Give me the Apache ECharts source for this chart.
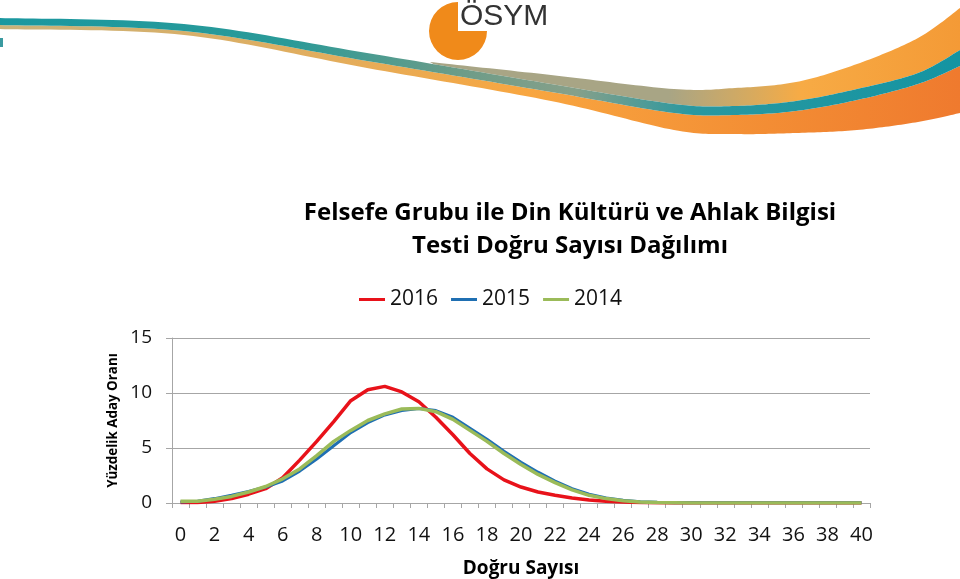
<!DOCTYPE html>
<html>
<head>
<meta charset="utf-8">
<script src="https://cdn.jsdelivr.net/npm/echarts@6/dist/echarts.min.js"></script>
<style>
html,body{margin:0;padding:0;background:#fff;}
#main{width:960px;height:579px;}
</style>
</head>
<body>
<div id="main"></div>
<script>
const categories = ['0','1','2','3','4','5','6','7','8','9','10','11','12','13','14','15','16','17','18','19','20','21','22','23','24','25','26','27','28','29','30','31','32','33','34','35','36','37','38','39','40'];
const seriesNames = ['2016','2015','2014'];
const values2016 = [0.05,0.05,0.15,0.4,0.8,1.3,2.3,3.9,5.6,7.4,9.3,10.3,10.6,10.1,9.2,7.8,6.2,4.5,3.1,2.1,1.45,1.0,0.7,0.45,0.27,0.15,0.08,0.04,0.02,0.01,0.01,0.01,0.01,0.01,0.01,0.01,0.01,0.01,0.01,0.01,0.01];
const values2015 = [0.1,0.15,0.4,0.7,1.05,1.45,2.0,2.9,4.0,5.2,6.4,7.3,8.0,8.4,8.6,8.4,7.8,6.8,5.8,4.7,3.7,2.8,2.0,1.3,0.8,0.45,0.25,0.12,0.06,0.03,0.02,0.02,0.02,0.02,0.02,0.02,0.02,0.02,0.02,0.02,0.02];
const values2014 = [0.15,0.15,0.35,0.6,1.0,1.5,2.2,3.1,4.3,5.6,6.6,7.5,8.1,8.55,8.6,8.3,7.6,6.6,5.6,4.5,3.5,2.6,1.85,1.2,0.7,0.4,0.2,0.1,0.05,0.03,0.01,0.01,0.01,0.01,0.01,0.01,0.01,0.01,0.01,0.01,0.01];
const titleText = 'Felsefe Grubu ile Din Kültürü ve Ahlak Bilgisi\nTesti Doğru Sayısı Dağılımı';
const xAxisName = 'Doğru Sayısı';
const yAxisName = 'Yüzdelik Aday Oranı';
const colors = ['#e8121a','#1f6fb2','#9bbb59'];

const FONT = 'Open Sans';
const chart = echarts.init(document.getElementById('main'), null, {renderer:'canvas'});

function lg(stops){ return {type:'linear',x:0,y:0,x2:1,y2:0,colorStops:stops}; }

// decorative header ribbon edges (Catmull-Rom through guide points)
function spline(p, n){
  const out=[];
  for(let i=0;i<p.length-1;i++){
    const p0=p[Math.max(0,i-1)], p1=p[i], p2=p[i+1], p3=p[Math.min(p.length-1,i+2)];
    for(let k=0;k<n;k++){
      const t=k/n, t2=t*t, t3=t2*t;
      const f=(a,b,c,d)=>0.5*((2*b)+(-a+c)*t+(2*a-5*b+4*c-d)*t2+(-a+3*b-3*c+d)*t3);
      out.push([f(p0[0],p1[0],p2[0],p3[0]), f(p0[1],p1[1],p2[1],p3[1])]);
    }
  }
  out.push(p[p.length-1]);
  return out;
}
const tealTopG = [[0,18],[184,24],[367,53],[551,84],[674,104],[735,106],[796,101],[857,89],[918,73],[960,50]];
const tealBotG = [[0,25],[184,31],[367,61],[551,92],[674,113],[735,115],[796,111],[857,100],[918,84],[960,66]];
const upperTopG = [[430,62],[551,75],[674,89],[735,88],[796,82],[857,64],[918,38],[960,8]];
const lowerBotG = [[0,29],[184,35],[367,68],[551,101],[674,130],[735,134],[796,133],[857,130],[918,122],[960,113]];

const tealTop = spline(tealTopG,20), tealBot = spline(tealBotG,20);
const upperTop = spline(upperTopG,20), lowerBot = spline(lowerBotG,20);
const tealRibbon = tealTop.concat(tealBot.slice().reverse());
const lowerRibbon = tealBot.concat(lowerBot.slice().reverse());
const upperRibbon = upperTop.concat(tealTop.filter(p=>p[0]>=430).reverse());

const option = {
  backgroundColor:'#ffffff',
  animation:false,
  title:{
    text:titleText,
    left:565, top:192, textAlign:'center',
    textStyle:{fontFamily:FONT,fontSize:24,fontWeight:'bold',color:'#000',lineHeight:33}
  },
  legend:{
    data:seriesNames,
    left:354, top:284,
    icon:'rect', itemWidth:26, itemHeight:3, itemGap:13,
    textStyle:{fontFamily:FONT,fontSize:21,color:'#111'}
  },
  grid:{left:172,right:90,top:338,bottom:76,containLabel:false},
  xAxis:{
    type:'category', data:categories, boundaryGap:true,
    name:xAxisName, nameLocation:'middle', nameGap:56,
    nameTextStyle:{fontFamily:FONT,fontSize:19,fontWeight:'bold',color:'#000'},
    axisLine:{lineStyle:{color:'#a6a6a6',width:1}},
    axisTick:{show:true,interval:0,length:5,lineStyle:{color:'#a6a6a6'}},
    axisLabel:{interval:1,margin:22,fontFamily:FONT,fontSize:20,color:'#111'},
    splitLine:{show:false}
  },
  yAxis:{
    type:'value', min:0, max:15, interval:5,
    name:yAxisName, nameLocation:'middle', nameGap:48,
    nameTextStyle:{fontFamily:FONT,fontSize:13.4,fontWeight:'bold',color:'#000'},
    axisLine:{show:true,lineStyle:{color:'#a6a6a6'}},
    axisTick:{show:true,length:6,lineStyle:{color:'#a6a6a6'}},
    axisLabel:{margin:20,fontFamily:FONT,fontSize:19,color:'#111'},
    splitLine:{lineStyle:{color:'#a6a6a6',width:1}}
  },
  color:colors,
  series:[
    {name:seriesNames[0],type:'line',data:values2016,showSymbol:false,symbol:'none',smooth:false,lineStyle:{width:3.5,color:colors[0]},itemStyle:{color:colors[0]}},
    {name:seriesNames[1],type:'line',data:values2015,showSymbol:false,symbol:'none',smooth:false,lineStyle:{width:3,color:colors[1]},itemStyle:{color:colors[1]}},
    {name:seriesNames[2],type:'line',data:values2014,showSymbol:false,symbol:'none',smooth:false,lineStyle:{width:3.5,color:colors[2]},itemStyle:{color:colors[2]}}
  ],
  graphic:[
    {type:'polygon', z:-1, shape:{points:lowerRibbon},
      style:{fill:lg([{offset:0,color:'#c9b27a'},{offset:0.35,color:'#e3ad5c'},{offset:0.55,color:'#f8a640'},{offset:0.8,color:'#f38d34'},{offset:1,color:'#ef7a2e'}])}},
    {type:'polygon', z:-1, shape:{points:upperRibbon},
      style:{fill:lg([{offset:0.45,color:'#a8a585'},{offset:0.6,color:'#d5aa60'},{offset:0.7,color:'#f7ab45'},{offset:1,color:'#f49a36'}])}},
    {type:'polygon', z:-1, shape:{points:tealRibbon},
      style:{fill:lg([{offset:0,color:'#1a98a0'},{offset:0.3,color:'#2a9a98'},{offset:0.48,color:'#6d9c88'},{offset:0.6,color:'#86a08a'},{offset:0.72,color:'#2a98a0'},{offset:1,color:'#1494a2'}])}},
    {type:'rect', z:-1, shape:{x:0,y:38,width:3,height:9}, style:{fill:'#3a9aa0'}},
    {type:'sector', z:-1, shape:{cx:458,cy:31,r:29,r0:0,startAngle:0,endAngle:Math.PI*1.5}, style:{fill:'#f08a1a'}},
    {type:'text', z:0, left:460, top:2, style:{text:'ÖSYM', fontFamily:'Liberation Sans', fontSize:30, fill:'#333'}}
  ]
};
chart.setOption(option);
</script>
</body>
</html>
